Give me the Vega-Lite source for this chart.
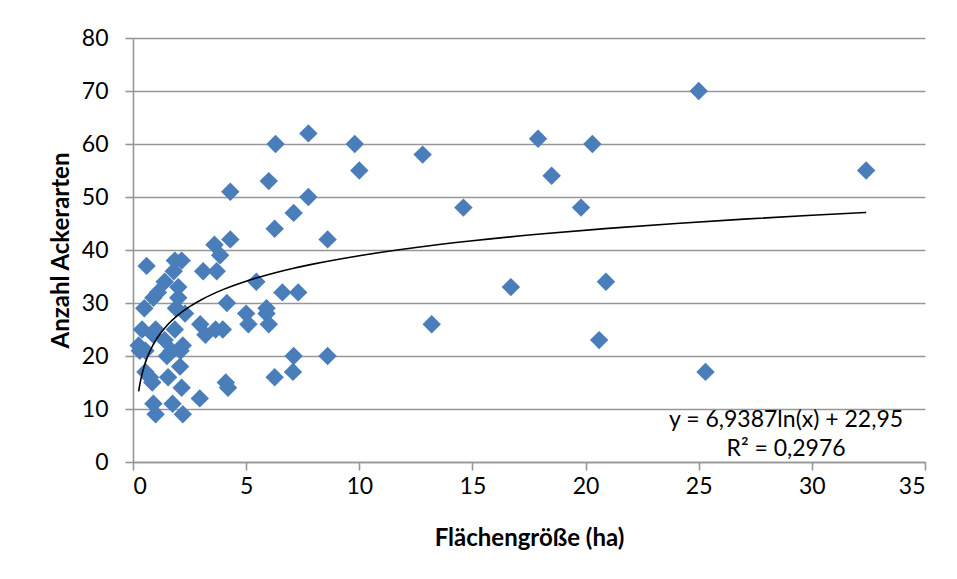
{
  "$schema": "https://vega.github.io/schema/vega-lite/v6.json",
  "width": 792,
  "height": 424,
  "autosize": "none",
  "padding": {"left": 133, "top": 38, "right": 32, "bottom": 117},
  "background": "white",
  "config": {
    "view": {"stroke": null},
    "font": "Lato",
    "axis": {
      "labelFont": "Lato",
      "labelFontSize": 23,
      "labelColor": "#000000",
      "titleFont": "Lato",
      "titleFontSize": 24,
      "titleFontWeight": "bold",
      "titleColor": "#000000",
      "domainColor": "#969696",
      "domainWidth": 1.6,
      "tickColor": "#969696",
      "tickWidth": 1.6,
      "tickSize": 8,
      "gridColor": "#969696",
      "gridWidth": 1.6
    }
  },
  "datasets": {
    "flaechen": [
      {"ha": 25.0, "arten": 70}, {"ha": 32.4, "arten": 55}, {"ha": 17.9, "arten": 61},
      {"ha": 20.3, "arten": 60}, {"ha": 18.5, "arten": 54}, {"ha": 19.8, "arten": 48},
      {"ha": 14.6, "arten": 48}, {"ha": 12.8, "arten": 58}, {"ha": 10.0, "arten": 55},
      {"ha": 9.8, "arten": 60}, {"ha": 7.75, "arten": 62}, {"ha": 6.3, "arten": 60},
      {"ha": 6.0, "arten": 53}, {"ha": 7.75, "arten": 50}, {"ha": 7.1, "arten": 47},
      {"ha": 6.26, "arten": 44}, {"ha": 8.6, "arten": 42}, {"ha": 4.3, "arten": 51},
      {"ha": 4.3, "arten": 42}, {"ha": 3.6, "arten": 41}, {"ha": 3.85, "arten": 39},
      {"ha": 3.7, "arten": 36}, {"ha": 3.1, "arten": 36}, {"ha": 5.45, "arten": 34},
      {"ha": 6.6, "arten": 32}, {"ha": 7.3, "arten": 32}, {"ha": 4.15, "arten": 30},
      {"ha": 5.0, "arten": 28}, {"ha": 5.9, "arten": 29}, {"ha": 5.9, "arten": 28},
      {"ha": 5.1, "arten": 26}, {"ha": 6.0, "arten": 26}, {"ha": 3.97, "arten": 25},
      {"ha": 3.65, "arten": 25}, {"ha": 2.97, "arten": 26}, {"ha": 3.2, "arten": 24},
      {"ha": 7.1, "arten": 20}, {"ha": 8.6, "arten": 20}, {"ha": 7.07, "arten": 17},
      {"ha": 6.26, "arten": 16}, {"ha": 4.1, "arten": 15}, {"ha": 4.2, "arten": 14},
      {"ha": 2.95, "arten": 12}, {"ha": 2.2, "arten": 9}, {"ha": 2.15, "arten": 14},
      {"ha": 2.08, "arten": 18}, {"ha": 1.75, "arten": 11}, {"ha": 0.9, "arten": 11},
      {"ha": 1.0, "arten": 9}, {"ha": 0.6, "arten": 37}, {"ha": 16.7, "arten": 33},
      {"ha": 13.2, "arten": 26}, {"ha": 20.9, "arten": 34}, {"ha": 20.6, "arten": 23},
      {"ha": 25.3, "arten": 17},
      {"ha": 1.85, "arten": 38}, {"ha": 2.15, "arten": 38}, {"ha": 1.8, "arten": 36},
      {"ha": 1.4, "arten": 34}, {"ha": 2.0, "arten": 33}, {"ha": 1.1, "arten": 32},
      {"ha": 0.9, "arten": 31}, {"ha": 0.5, "arten": 29}, {"ha": 2.0, "arten": 31},
      {"ha": 1.9, "arten": 29}, {"ha": 2.3, "arten": 28}, {"ha": 0.4, "arten": 25},
      {"ha": 1.0, "arten": 25}, {"ha": 1.85, "arten": 25}, {"ha": 0.9, "arten": 24},
      {"ha": 0.25, "arten": 22}, {"ha": 0.3, "arten": 21}, {"ha": 0.55, "arten": 21},
      {"ha": 1.4, "arten": 23}, {"ha": 1.7, "arten": 21}, {"ha": 2.1, "arten": 21},
      {"ha": 1.5, "arten": 20}, {"ha": 2.2, "arten": 22}, {"ha": 0.55, "arten": 17},
      {"ha": 0.85, "arten": 15}, {"ha": 1.55, "arten": 16}, {"ha": 0.75, "arten": 16}
    ],
    "trend": [
      {"ha": 0.25, "arten": 13.33}, {"ha": 0.3, "arten": 14.6}, {"ha": 0.35, "arten": 15.67},
      {"ha": 0.4, "arten": 16.59}, {"ha": 0.5, "arten": 18.14}, {"ha": 0.6, "arten": 19.41},
      {"ha": 0.75, "arten": 20.95}, {"ha": 1, "arten": 22.95}, {"ha": 1.5, "arten": 25.76},
      {"ha": 2, "arten": 27.76}, {"ha": 2.5, "arten": 29.31}, {"ha": 3, "arten": 30.57},
      {"ha": 4, "arten": 32.57}, {"ha": 5, "arten": 34.12}, {"ha": 6, "arten": 35.38},
      {"ha": 7, "arten": 36.45}, {"ha": 8, "arten": 37.38}, {"ha": 10, "arten": 38.93},
      {"ha": 12.5, "arten": 40.48}, {"ha": 15, "arten": 41.74}, {"ha": 18, "arten": 43.01},
      {"ha": 21, "arten": 44.08}, {"ha": 24, "arten": 45.0}, {"ha": 27, "arten": 45.82},
      {"ha": 30, "arten": 46.55}, {"ha": 32.4, "arten": 47.08}
    ]
  },
  "layer": [
    {
      "data": {"name": "flaechen"},
      "mark": {"type": "point", "shape": "diamond", "filled": true, "size": 340, "color": "#4A7EBB", "opacity": 1, "strokeWidth": 0},
      "encoding": {
        "x": {
          "field": "ha", "type": "quantitative",
          "title": "Flächengröße (ha)",
          "scale": {"domain": [0, 35], "nice": false, "zero": true},
          "axis": {"values": [0, 5, 10, 15, 20, 25, 30, 35], "grid": false, "labelPadding": 5, "titlePadding": 28}
        },
        "y": {
          "field": "arten", "type": "quantitative",
          "title": "Anzahl Ackerarten",
          "scale": {"domain": [0, 80], "nice": false},
          "axis": {"values": [0, 10, 20, 30, 40, 50, 60, 70, 80], "grid": true, "labelPadding": 17, "titlePadding": 8}
        }
      }
    },
    {
      "data": {"name": "trend"},
      "mark": {"type": "line", "color": "#000000", "strokeWidth": 1.6, "interpolate": "monotone"},
      "encoding": {
        "x": {"field": "ha", "type": "quantitative"},
        "y": {"field": "arten", "type": "quantitative"}
      }
    },
    {
      "data": {"values": [{"zeile": "y = 6,9387ln(x) + 22,95"}]},
      "mark": {"type": "text", "align": "center", "baseline": "middle", "fontSize": 23, "font": "Lato", "color": "#000000"},
      "encoding": {
        "x": {"datum": 28.86, "type": "quantitative"},
        "y": {"datum": 7.9, "type": "quantitative"},
        "text": {"field": "zeile"}
      }
    },
    {
      "data": {"values": [{"zeile": "R² = 0,2976"}]},
      "mark": {"type": "text", "align": "center", "baseline": "middle", "fontSize": 23, "font": "Lato", "color": "#000000"},
      "encoding": {
        "x": {"datum": 28.86, "type": "quantitative"},
        "y": {"datum": 2.45, "type": "quantitative"},
        "text": {"field": "zeile"}
      }
    }
  ]
}
